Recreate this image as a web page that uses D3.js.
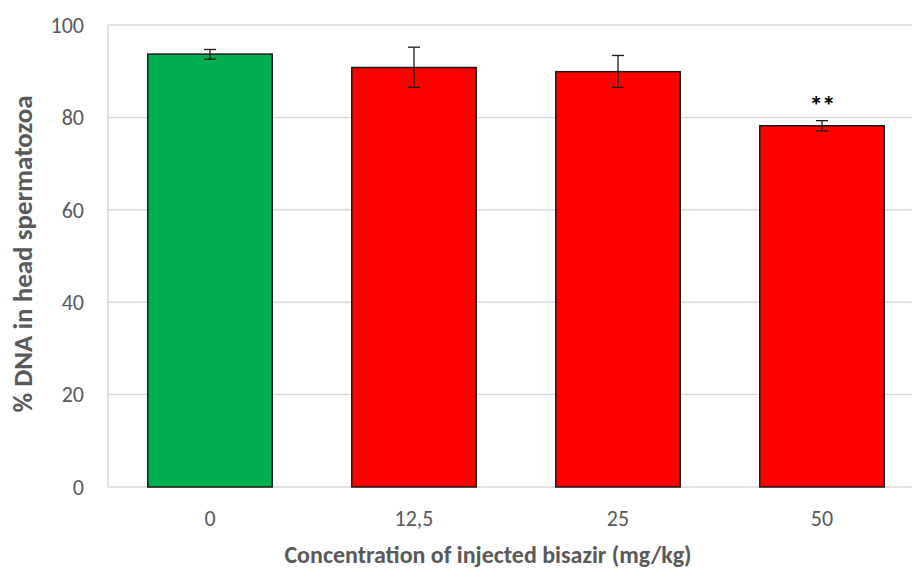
<!DOCTYPE html>
<html>
<head>
<meta charset="utf-8">
<script src="https://cdn.jsdelivr.net/npm/d3@7"></script>
<style>
  body { margin: 0; background: #fff; }
  svg { display: block; }
</style>
</head>
<body>
<div id="container"></div>
<script>
const width = 912, height = 572;
const margin = ({top: 25, right: -12, bottom: 85, left: 108});

// chart data
const categories = ["0", "12,5", "25", "50"];
const means = [93.7, 90.8, 89.9, 78.2];
const errLow = [92.6, 86.5, 86.5, 77.1];
const errHigh = [94.7, 95.2, 93.4, 79.3];
const barColors = ["#00B050", "#FF0000", "#FF0000", "#FF0000"];
const marks = ["", "", "", "**"];
const yTicks = [0, 20, 40, 60, 80, 100];

const fontFamily = "Carlito, 'Open Sans', 'Liberation Sans', sans-serif";

const svg = d3.select("#container").append("svg")
    .attr("width", width)
    .attr("height", height)
    .attr("font-family", fontFamily);

const x = d3.scaleBand()
    .domain(categories)
    .range([margin.left, width - margin.right])
    .paddingInner(0.39)
    .paddingOuter(0.195);

const y = d3.scaleLinear()
    .domain([0, 100])
    .range([487, margin.top]);

// gridlines
svg.append("g")
    .selectAll("line")
    .data(yTicks)
    .join("line")
    .attr("x1", margin.left)
    .attr("x2", width)
    .attr("y1", d => y(d))
    .attr("y2", d => y(d))
    .attr("stroke", "#d9d9d9")
    .attr("stroke-width", 1.5);

// y axis line
svg.append("line")
    .attr("x1", margin.left).attr("x2", margin.left)
    .attr("y1", y(0)).attr("y2", y(100))
    .attr("stroke", "#d9d9d9")
    .attr("stroke-width", 1.5);

// y tick labels
svg.append("g")
    .selectAll("text")
    .data(yTicks)
    .join("text")
    .attr("x", 84)
    .attr("y", d => y(d))
    .attr("dy", "0.35em")
    .attr("text-anchor", "end")
    .attr("font-size", 22)
    .attr("fill", "#595959")
    .text(d => d);

// bars
const bars = categories.map((c, i) => ({cat: c, mean: means[i], lo: errLow[i], hi: errHigh[i], color: barColors[i], mark: marks[i]}));

svg.append("g")
    .selectAll("rect")
    .data(bars)
    .join("rect")
    .attr("x", d => x(d.cat))
    .attr("y", d => y(d.mean))
    .attr("width", x.bandwidth())
    .attr("height", d => y(0) - y(d.mean))
    .attr("fill", d => d.color)
    .attr("stroke", "#1a1a1a")
    .attr("stroke-width", 1.5);

// error bars
const eb = svg.append("g")
    .attr("stroke", "#1a1a1a")
    .attr("stroke-width", 1.3);
const cap = 6;
bars.forEach(d => {
    const cx = x(d.cat) + x.bandwidth() / 2;
    eb.append("line").attr("x1", cx).attr("x2", cx).attr("y1", y(d.hi)).attr("y2", y(d.lo));
    eb.append("line").attr("x1", cx - cap).attr("x2", cx + cap).attr("y1", y(d.hi)).attr("y2", y(d.hi));
    eb.append("line").attr("x1", cx - cap).attr("x2", cx + cap).attr("y1", y(d.lo)).attr("y2", y(d.lo));
});

// significance marks
svg.append("g")
    .selectAll("text")
    .data(bars.filter(d => d.mark))
    .join("text")
    .attr("x", d => x(d.cat) + x.bandwidth() / 2)
    .attr("y", 115)
    .attr("text-anchor", "middle")
    .attr("font-size", 27)
    .attr("font-weight", "bold")
    .attr("letter-spacing", -1)
    .attr("fill", "#000")
    .text(d => d.mark);

// x tick labels
svg.append("g")
    .selectAll("text")
    .data(categories)
    .join("text")
    .attr("x", d => x(d) + x.bandwidth() / 2)
    .attr("y", 526)
    .attr("text-anchor", "middle")
    .attr("font-size", 22)
    .attr("fill", "#595959")
    .text(d => d);

// axis titles
svg.append("text")
    .attr("x", 488)
    .attr("y", 563)
    .attr("text-anchor", "middle")
    .attr("font-size", 24)
    .attr("font-weight", "bold")
    .attr("fill", "#595959")
    .text("Concentration of injected bisazir (mg/kg)");

svg.append("text")
    .attr("transform", "translate(32,254) rotate(-90)")
    .attr("text-anchor", "middle")
    .attr("font-size", 27)
    .attr("font-weight", "bold")
    .attr("fill", "#595959")
    .text("% DNA in head spermatozoa");
</script>
</body>
</html>
